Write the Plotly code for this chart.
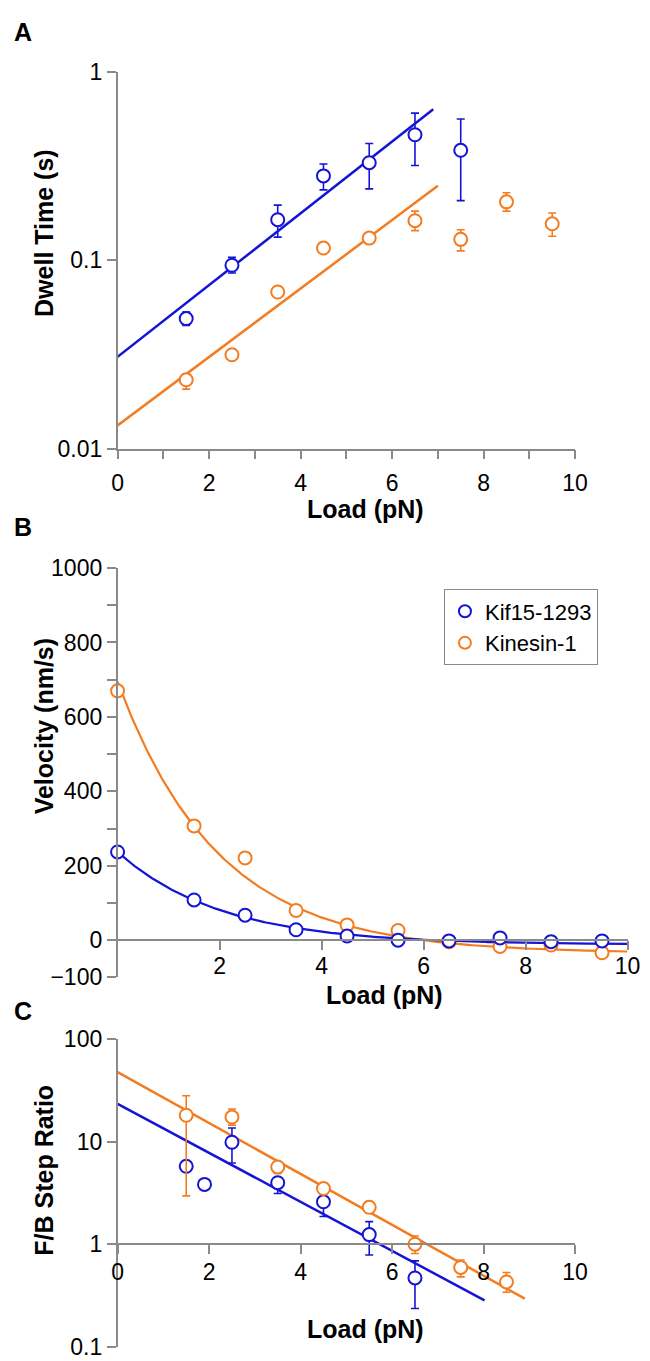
import numpy as np
import plotly.graph_objects as go

BLUE = "#1414d6"
ORANGE = "#f47c20"
GRAY = "#8a8a8a"
FONT = "Liberation Sans, Arial, sans-serif"

W, H = 650, 1361

# ---------------- Panel A: dwell time ----------------
load_A_kif = [1.5, 2.5, 3.5, 4.5, 5.5, 6.5, 7.5]
dwell_kif = [0.049, 0.094, 0.164, 0.28, 0.329, 0.463, 0.383]
dwell_kif_hi = [0.053, 0.1035, 0.196, 0.324, 0.416, 0.603, 0.561]
dwell_kif_lo = [0.045, 0.0855, 0.1325, 0.236, 0.239, 0.318, 0.207]

load_A_kin = [1.5, 2.5, 3.5, 4.5, 5.5, 6.5, 7.5, 8.5, 9.5]
dwell_kin = [0.0232, 0.0315, 0.0678, 0.116, 0.131, 0.162, 0.129, 0.204, 0.156]
dwell_kin_hi = [0.0248, 0.0315, 0.0678, 0.116, 0.131, 0.182, 0.145, 0.228, 0.178]
dwell_kin_lo = [0.0207, 0.0315, 0.0678, 0.116, 0.131, 0.1435, 0.112, 0.182, 0.134]

fitA_kif_x = [0.0, 6.9]
fitA_kif_y = [0.0307, 0.632]
fitA_kin_x = [0.0, 7.0]
fitA_kin_y = [0.01328, 0.248]

# ---------------- Panel B: velocity ----------------
load_B = [0, 1.5, 2.5, 3.5, 4.5, 5.5, 6.5, 7.5, 8.5, 9.5]
vel_kif = [237, 108, 67, 28, 11, 0, -2, 6, -4, -2]
vel_kin = [670, 307, 221, 80, 41, 26, -4, -17, -13, -34]

# exponential fit parameters: v = amp * exp(-F / d) + offset
fitB_kif = dict(amp=249, d=2.03, offset=-12)
fitB_kin = dict(amp=730, d=1.97, offset=-35)

# ---------------- Panel C: F/B step ratio ----------------
load_C_kif = [1.5, 1.9, 2.5, 3.5, 4.5, 5.5, 6.5]
ratio_kif = [5.75, 3.83, 9.87, 3.98, 2.59, 1.24, 0.468]
ratio_kif_hi = [5.75, 3.83, 13.6, 3.98, 2.59, 1.66, 0.687]
ratio_kif_lo = [5.75, 3.83, 6.2, 3.12, 1.86, 0.784, 0.236]

load_C_kin = [1.5, 2.5, 3.5, 4.5, 5.5, 6.5, 7.5, 8.5]
ratio_kin = [18.1, 17.4, 5.67, 3.49, 2.29, 1.0, 0.593, 0.428]
ratio_kin_hi = [28.1, 20.8, 6.2, 3.9, 2.6, 1.2, 0.7, 0.53]
ratio_kin_lo = [2.96, 14.5, 4.9, 3.1, 2.0, 0.81, 0.48, 0.34]

fitC_kif_x = [0.0, 8.02]
fitC_kif_y = [23.4, 0.283]
fitC_kin_x = [0.0, 8.9]
fitC_kin_y = [47.8, 0.294]

x_ticks = [0, 2, 4, 6, 8, 10]
B_x_ticks = [2, 4, 6, 8, 10]
B_y_ticks = [-100, 0, 200, 400, 600, 800, 1000]


def errs(val, hi, lo):
    v = np.array(val, float)
    return dict(type="data", symmetric=False,
                array=(np.array(hi, float) - v).tolist(),
                arrayminus=(v - np.array(lo, float)).tolist(),
                thickness=1.6, width=4)


def px_x(p):
    return p / W


def px_y(p):
    return 1 - p / H


fig = go.Figure()

marker = lambda c: dict(symbol="circle", size=13, color="white", line=dict(color=c, width=2))

# ---- A ----
fig.add_trace(go.Scatter(x=fitA_kin_x, y=fitA_kin_y, mode="lines", line=dict(color=ORANGE, width=2.5),
                         xaxis="x", yaxis="y", showlegend=False))
fig.add_trace(go.Scatter(x=fitA_kif_x, y=fitA_kif_y, mode="lines", line=dict(color=BLUE, width=2.5),
                         xaxis="x", yaxis="y", showlegend=False))
e = errs(dwell_kin, dwell_kin_hi, dwell_kin_lo); e["color"] = ORANGE
fig.add_trace(go.Scatter(x=load_A_kin, y=dwell_kin, mode="markers", marker=marker(ORANGE),
                         error_y=e, xaxis="x", yaxis="y", showlegend=False, cliponaxis=False))
e = errs(dwell_kif, dwell_kif_hi, dwell_kif_lo); e["color"] = BLUE
fig.add_trace(go.Scatter(x=load_A_kif, y=dwell_kif, mode="markers", marker=marker(BLUE),
                         error_y=e, xaxis="x", yaxis="y", showlegend=False, cliponaxis=False))

# ---- B ----
fx = np.linspace(0, 10, 300)
fig.add_trace(go.Scatter(x=fx, y=fitB_kin["amp"] * np.exp(-fx / fitB_kin["d"]) + fitB_kin["offset"],
                         mode="lines", line=dict(color=ORANGE, width=2.2),
                         xaxis="x2", yaxis="y2", showlegend=False, cliponaxis=False))
fig.add_trace(go.Scatter(x=fx, y=fitB_kif["amp"] * np.exp(-fx / fitB_kif["d"]) + fitB_kif["offset"],
                         mode="lines", line=dict(color=BLUE, width=2.2),
                         xaxis="x2", yaxis="y2", showlegend=False, cliponaxis=False))
fig.add_trace(go.Scatter(x=load_B, y=vel_kin, mode="markers", marker=marker(ORANGE), name="Kinesin-1",
                         xaxis="x2", yaxis="y2", showlegend=True, legendrank=2, cliponaxis=False))
fig.add_trace(go.Scatter(x=load_B, y=vel_kif, mode="markers", marker=marker(BLUE), name="Kif15-1293",
                         xaxis="x2", yaxis="y2", showlegend=True, legendrank=1, cliponaxis=False))

# ---- C ----
fig.add_trace(go.Scatter(x=fitC_kif_x, y=fitC_kif_y, mode="lines", line=dict(color=BLUE, width=2.5),
                         xaxis="x3", yaxis="y3", showlegend=False))
fig.add_trace(go.Scatter(x=fitC_kin_x, y=fitC_kin_y, mode="lines", line=dict(color=ORANGE, width=2.5),
                         xaxis="x3", yaxis="y3", showlegend=False))
e = errs(ratio_kif, ratio_kif_hi, ratio_kif_lo); e["color"] = BLUE
fig.add_trace(go.Scatter(x=load_C_kif, y=ratio_kif, mode="markers", marker=marker(BLUE),
                         error_y=e, xaxis="x3", yaxis="y3", showlegend=False, cliponaxis=False))
e = errs(ratio_kin, ratio_kin_hi, ratio_kin_lo); e["color"] = ORANGE
fig.add_trace(go.Scatter(x=load_C_kin, y=ratio_kin, mode="markers", marker=marker(ORANGE),
                         error_y=e, xaxis="x3", yaxis="y3", showlegend=False, cliponaxis=False))

tickfont = dict(family=FONT, size=23, color="black")
axis_common = dict(showline=True, linecolor=GRAY, linewidth=1.5, ticks="outside", tickcolor=GRAY,
                   tickwidth=1.5, ticklen=9, showgrid=False, zeroline=False, tickfont=tickfont)

fig.update_layout(
    width=W, height=H,
    margin=dict(l=0, r=0, t=0, b=0),
    paper_bgcolor="white", plot_bgcolor="white",
    font=dict(family=FONT, color="black"),
    xaxis=dict(domain=[px_x(106.7), px_x(578)], range=[0, 10], anchor="y",
               tickmode="array", tickvals=x_ticks, ticklabelstandoff=4,
               minor=dict(dtick=1, ticks="outside", ticklen=9, tickcolor=GRAY, tickwidth=1.5),
               **axis_common),
    yaxis=dict(domain=[px_y(436), px_y(51.7)], type="log", range=[-2, 0], anchor="x",
               tickmode="array", tickvals=[0.01, 0.1, 1], ticktext=["0.01", "0.1", "1"],
               **axis_common),
    xaxis2=dict(domain=[px_x(106.7), px_x(632)], range=[0, 10], anchor="free",
                position=px_y(937.1), tickmode="array", tickvals=B_x_ticks,
                ticklabelstandoff=-4, **axis_common),
    yaxis2=dict(domain=[px_y(975), px_y(557.7)], range=[-100, 1000], anchor="x2",
                tickmode="array", tickvals=B_y_ticks,
                minor=dict(dtick=100, ticks="outside", ticklen=9, tickcolor=GRAY, tickwidth=1.5),
                **axis_common),
    xaxis3=dict(domain=[px_x(106.7), px_x(578)], range=[0, 10], anchor="free",
                position=px_y(1247), tickmode="array", tickvals=x_ticks,
                ticklabelstandoff=-2, **axis_common),
    yaxis3=dict(domain=[px_y(1351.5), px_y(1038)], type="log", range=[-1, 2], anchor="x3",
                tickmode="array", tickvals=[0.1, 1, 10, 100], ticktext=["0.1", "1", "10", "100"],
                **axis_common),
    legend=dict(x=px_x(442.7), y=px_y(579.3), xanchor="left", yanchor="top",
                bgcolor="white", bordercolor=GRAY, borderwidth=1.2,
                font=dict(family=FONT, size=22, color="black"), itemsizing="constant",
                tracegroupgap=0),
)

annots = [
    dict(text="<b>Load (pN)</b>", x=px_x(362), y=px_y(498)),
    dict(text="<b>Load (pN)</b>", x=px_x(382), y=px_y(993)),
    dict(text="<b>Load (pN)</b>", x=px_x(362), y=px_y(1333)),
    dict(text="<b>Dwell Time (s)</b>", x=px_x(31), y=px_y(216), textangle=-90),
    dict(text="<b>Velocity (nm/s)</b>", x=px_x(31), y=px_y(719), textangle=-90),
    dict(text="<b>F/B Step Ratio</b>", x=px_x(31), y=px_y(1172), textangle=-90),
    dict(text="<b>A</b>", x=px_x(9), y=px_y(11)),
    dict(text="<b>B</b>", x=px_x(9), y=px_y(516)),
    dict(text="<b>C</b>", x=px_x(9), y=px_y(1009)),
]
for a in annots:
    fig.add_annotation(xref="paper", yref="paper", xanchor="center", yanchor="middle",
                       showarrow=False, font=dict(family=FONT, size=25, color="black"), **a)

fig.write_html("out.html")
